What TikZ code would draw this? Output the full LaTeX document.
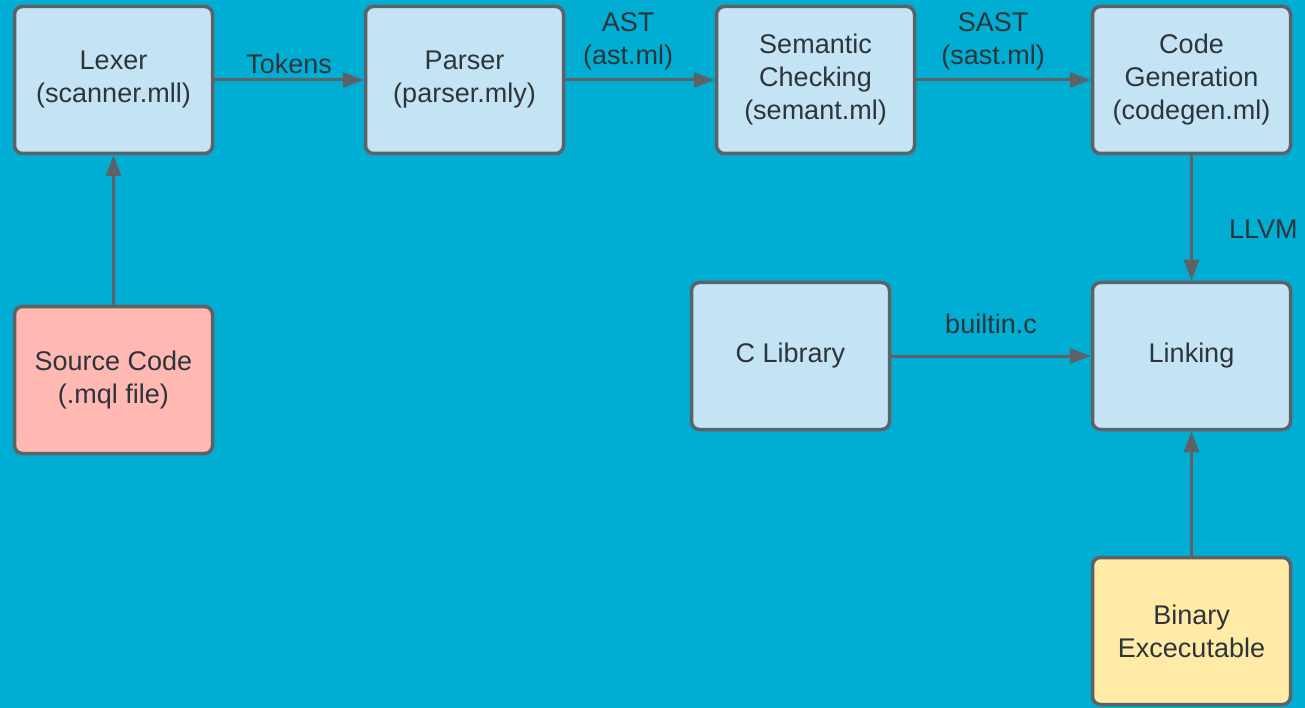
\documentclass[tikz,border=0pt]{standalone}
\usepackage{fontspec}
\setmainfont{Liberation Sans}
\usetikzlibrary{arrows.meta}
\definecolor{bgcyan}{RGB}{0,174,212}
\definecolor{boxblue}{RGB}{196,228,245}
\definecolor{boxpink}{RGB}{255,185,178}
\definecolor{boxyellow}{RGB}{255,234,166}
\definecolor{edgegray}{RGB}{92,98,102}
\definecolor{inkgray}{RGB}{45,52,58}
\tikzset{
  stage/.style={draw=edgegray, line width=3.5pt, rounded corners=8pt,
    fill=boxblue, minimum width=198pt, minimum height=147pt, inner sep=0pt,
    align=center, text=inkgray,
    font=\fontsize{27}{33}\selectfont},
  flow/.style={draw=edgegray, line width=3pt,
    -{Triangle[length=21pt,width=15pt]}},
  tag/.style={text=inkgray, align=center, inner sep=2pt,
    font=\fontsize{27}{33}\selectfont}
}
\begin{document}
\begin{tikzpicture}[x=1pt,y=-1pt]
  \fill[bgcyan] (0,0) rectangle (1305,708);
  \useasboundingbox (0,0) rectangle (1305,708);

  % compiler pipeline stages
  \node[stage] (lexer)   at (113.5,80)  {Lexer\\(scanner.mll)};
  \node[stage] (parser)  at (464.5,80)  {Parser\\(parser.mly)};
  \node[stage] (semant)  at (815.5,80)  {Semantic\\Checking\\(semant.ml)};
  \node[stage] (codegen) at (1191.5,80) {Code\\Generation\\(codegen.ml)};
  \node[stage, fill=boxpink] (source) at (113.5,380) {Source Code\\(.mql file)};
  \node[stage] (clib)    at (790.5,356) {C Library};
  \node[stage] (link)    at (1191.5,356) {Linking};
  \node[stage, fill=boxyellow] (binary) at (1191.5,631) {Binary\\Excecutable};

  % data passed between stages
  \draw[flow] (source) -- (lexer);
  \draw[flow] (lexer) -- node[tag, above, yshift=3pt] {Tokens} (parser);
  \draw[flow] (parser) -- node[tag, above, pos=0.42, yshift=6pt] {AST\\(ast.ml)} (semant);
  \draw[flow] (semant) -- node[tag, above, pos=0.44, yshift=6pt] {SAST\\(sast.ml)} (codegen);
  \draw[flow] (codegen) -- node[tag, right, xshift=34pt, yshift=-11pt] {LLVM} (link);
  \draw[flow] (clib) -- node[tag, above, yshift=19pt] {builtin.c} (link);
  \draw[flow] (binary) -- (link);
\end{tikzpicture}
\end{document}
